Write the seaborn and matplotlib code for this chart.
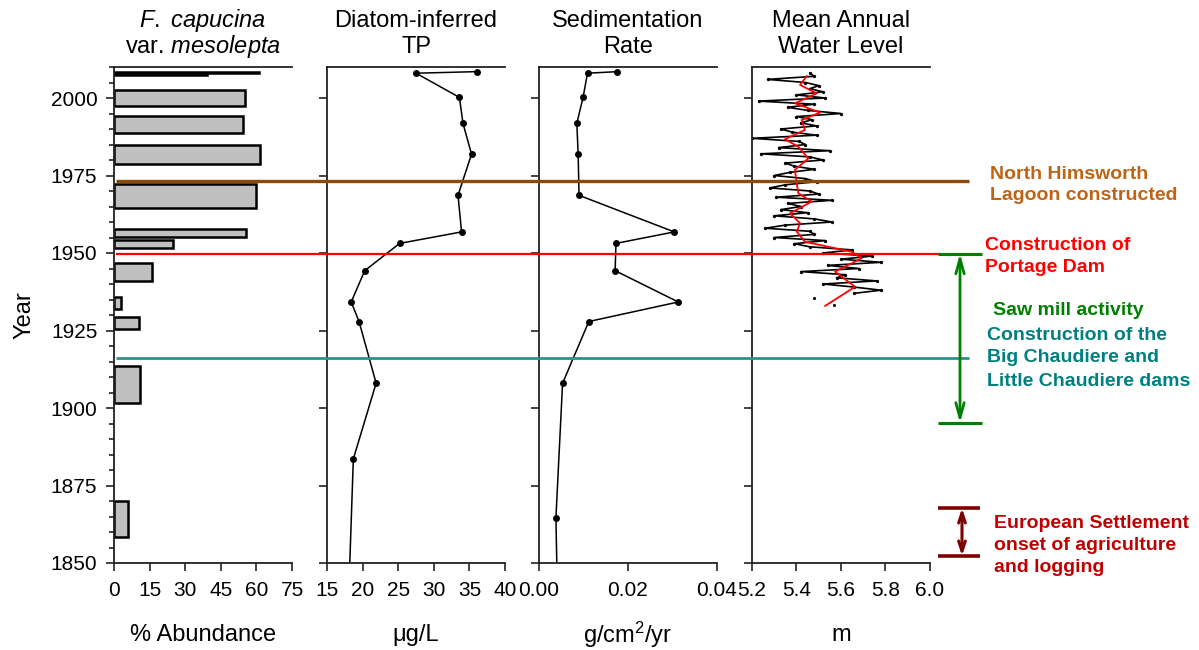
import matplotlib
matplotlib.use("Agg")
import matplotlib.pyplot as plt
from matplotlib.ticker import MultipleLocator
import seaborn as sns

# F. capucina var. mesolepta abundance, one bar per sediment interval (years)
abund_top = [2008.3, 2007.9, 2002.6, 1994.2, 1984.8, 1972.2, 1957.7, 1954.2, 1946.7, 1935.9, 1929.5, 1913.7, 1870.0]
abund_base = [2008.1, 2007.4, 1997.4, 1988.8, 1978.6, 1964.4, 1955.2, 1951.7, 1941.1, 1931.8, 1925.5, 1901.7, 1858.5]
abund_pct = [61.0, 39.0, 55.2, 54.5, 61.5, 59.7, 55.5, 25.0, 15.9, 2.8, 10.4, 11.0, 5.8]

# diatom-inferred TP (last value is the line running to the bottom, no marker)
tp_year = [2008.5, 2008.0, 2000.2, 1991.8, 1981.9, 1968.6, 1956.8, 1953.1, 1944.3, 1934.2, 1927.9, 1908.0, 1883.6, 1850.0]
tp_value = [36.0, 27.5, 33.6, 34.1, 35.3, 33.4, 33.9, 25.2, 20.3, 18.4, 19.5, 21.9, 18.7, 18.2]

# sedimentation rate (g/cm2/yr)
sed_year = [2008.5, 2008.0, 2000.2, 1991.8, 1981.9, 1968.6, 1956.8, 1953.1, 1944.3, 1934.2, 1927.9, 1908.0, 1864.5, 1850.0]
sed_value = [0.0176, 0.0109, 0.0099, 0.0085, 0.0088, 0.0090, 0.0304, 0.0173, 0.0171, 0.0313, 0.0112, 0.0053, 0.0038, 0.0040]

# mean annual water level (m), annual series 2008 -> 1937
wl_year = list(range(2008, 1936, -1))
wl_value = [5.46, 5.48, 5.27, 5.44, 5.50, 5.46, 5.52, 5.40, 5.53, 5.23,
            5.48, 5.36, 5.45, 5.60, 5.40, 5.47, 5.42, 5.49, 5.33, 5.38,
            5.49, 5.20, 5.41, 5.44, 5.32, 5.55, 5.24, 5.46, 5.52, 5.35,
            5.39, 5.48, 5.37, 5.30, 5.44, 5.49, 5.35, 5.28, 5.46, 5.50,
            5.31, 5.56, 5.36, 5.42, 5.33, 5.45, 5.30, 5.48, 5.56, 5.35,
            5.26, 5.46, 5.48, 5.30, 5.53, 5.39, 5.46, 5.65, 5.52, 5.74,
            5.60, 5.78, 5.54, 5.68, 5.42, 5.62, 5.58, 5.76, 5.52, 5.66,
            5.78, 5.66]
wl_dot_year = [1935.5, 1933.2]
wl_dot_value = [5.48, 5.57]

# smoothed water level (red)
smooth_year = [2007.1, 2004.2, 2001.5, 1998.3, 1995.3, 1992.9, 1989.7, 1986.7, 1984.3, 1980.5,
               1976.8, 1972.5, 1969.3, 1966.6, 1962.8, 1959.6, 1956.9, 1953.6, 1950.4, 1948.3,
               1944.0, 1939.1, 1932.9]
smooth_value = [5.446, 5.416, 5.491, 5.393, 5.506, 5.423, 5.438, 5.348, 5.408, 5.453,
                5.393, 5.401, 5.408, 5.468, 5.371, 5.416, 5.401, 5.438, 5.648, 5.693,
                5.573, 5.663, 5.528]

# event lines (year) and arrow spans
event_year = {"lagoon": 1973.3, "portage": 1949.8, "chaudiere": 1916.2}
sawmill_span = (1949.8, 1895.2)
settlement_span = (1867.7, 1852.3)

W, H = 1199, 650
FS_TICK = 15
FS_LAB = 17
FS_NOTE = 14

sns.set_theme(style="ticks")
plt.rcParams["font.family"] = ["Liberation Sans", "DejaVu Sans"]
plt.rcParams["mathtext.fontset"] = "custom"
plt.rcParams["mathtext.rm"] = "Liberation Sans"
plt.rcParams["mathtext.it"] = "Liberation Sans:italic"
for key in ("text.color", "axes.labelcolor", "xtick.color", "ytick.color"):
    plt.rcParams[key] = "black"

fig = plt.figure(figsize=(W / 100, H / 100), dpi=100)

lefts = [114, 327, 539, 752]
pw = 178
ax_bottom = 1 - 563 / H
ax_height = (563 - 67) / H
axes = [fig.add_axes([l / W, ax_bottom, pw / W, ax_height]) for l in lefts]

for ax in axes:
    ax.set_ylim(1850, 2010)
    ax.spines["right"].set_visible(False)
    for s in ("left", "top", "bottom"):
        ax.spines[s].set_color("#222222")
        ax.spines[s].set_linewidth(1.3)
    ax.yaxis.set_major_locator(MultipleLocator(25))
    ax.tick_params(axis="both", direction="out", length=6, width=1.2, color="#222222",
                   labelsize=FS_TICK, pad=7, labelcolor="black")
    ax.tick_params(axis="y", pad=6)

# panel 1: bars
ax = axes[0]
centers = [(t + b) / 2 for t, b in zip(abund_top, abund_base)]
spans = [t - b for t, b in zip(abund_top, abund_base)]
ax.barh(centers, abund_pct, height=spans, left=0, color="#C0C0C0", edgecolor="black", linewidth=1.8)
ax.set_xlim(0, 75)
ax.set_xticks([0, 15, 30, 45, 60, 75])
ax.yaxis.set_minor_locator(MultipleLocator(5))
ax.tick_params(axis="y", which="minor", direction="out", length=3.5, width=1.2, color="#222222")
ax.set_yticks([1850, 1875, 1900, 1925, 1950, 1975, 2000])

line_kw = dict(sort=False, orient="y", estimator=None, color="black")

# panel 2: TP
ax = axes[1]
n = len(tp_value)
sns.lineplot(x=tp_value, y=tp_year, lw=1.1, marker="o", markersize=5, markeredgewidth=0,
             markevery=list(range(n - 1)), ax=ax, **line_kw)
ax.set_xlim(15, 40)
ax.set_xticks([15, 20, 25, 30, 35, 40])
ax.set_yticklabels([])

# panel 3: sedimentation
ax = axes[2]
n = len(sed_value)
sns.lineplot(x=sed_value, y=sed_year, lw=1.1, marker="o", markersize=5, markeredgewidth=0,
             markevery=list(range(n - 1)), ax=ax, **line_kw)
ax.set_xlim(0, 0.04)
ax.set_xticks([0, 0.02, 0.04])
ax.set_xticklabels(["0.00", "0.02", "0.04"])
ax.set_yticklabels([])

# panel 4: water level
ax = axes[3]
sns.lineplot(x=wl_value, y=wl_year, lw=1.2, marker="o", markersize=2.4, markeredgewidth=0,
             ax=ax, **line_kw)
sns.scatterplot(x=wl_dot_value, y=wl_dot_year, color="black", s=5, linewidth=0, ax=ax)
sns.lineplot(x=smooth_value, y=smooth_year, sort=False, orient="y", estimator=None,
             color="red", lw=1.3, ax=ax)
ax.set_xlim(5.2, 6.0)
ax.set_xticks([5.2, 5.4, 5.6, 5.8, 6.0])
ax.set_xticklabels(["5.2", "5.4", "5.6", "5.8", "6.0"])
ax.set_yticklabels([])

for ax in axes:
    ax.set_xlabel("")
    ax.set_ylabel("")
    ax.set_ylim(1850, 2010)

# overlay in pixel-x / year-y coordinates for event lines
ov = fig.add_axes([0, ax_bottom, 1, ax_height])
ov.set_xlim(0, W)
ov.set_ylim(1850, 2010)
ov.axis("off")
ov.patch.set_alpha(0)
ov.hlines(event_year["lagoon"], 116, 969, color="#8B4A0B", lw=2.4)
ov.hlines(event_year["portage"], 116, 940, color="#FF0000", lw=1.6)
ov.hlines(event_year["chaudiere"], 116, 969, color="#2F8F8F", lw=2.0)

green = "#008000"
ov.hlines(list(sawmill_span), 938, 982, color=green, lw=2.2)
ov.annotate("", xy=(960, sawmill_span[0]), xytext=(960, sawmill_span[1]),
            arrowprops=dict(arrowstyle="<->,head_length=0.9,head_width=0.25", color=green,
                            lw=2.0, shrinkA=0, shrinkB=0))
dred = "#800000"
ov.hlines(list(settlement_span), 938, 980, color=dred, lw=2.6)
ov.annotate("", xy=(962, settlement_span[0]), xytext=(962, settlement_span[1]),
            arrowprops=dict(arrowstyle="<->,head_length=0.6,head_width=0.2", color=dred,
                            lw=2.2, shrinkA=0, shrinkB=0))

notes = [
    ("North Himsworth", 990, 175, "#BE6414"),
    ("Lagoon constructed", 990, 196, "#BE6414"),
    ("Construction of", 985, 245, "#FF0000"),
    ("Portage Dam", 985, 267, "#FF0000"),
    ("Saw mill activity", 993, 310, green),
    ("Construction of the", 987, 336, "#008080"),
    ("Big Chaudiere and", 987, 358, "#008080"),
    ("Little Chaudiere dams", 987, 381, "#008080"),
    ("European Settlement", 994, 523, "#C00000"),
    ("onset of agriculture", 994, 545, "#C00000"),
    ("and logging", 994, 567, "#C00000"),
]
for txt, x, y, c in notes:
    fig.text(x / W, 1 - y / H, txt, color=c, fontsize=FS_NOTE, fontweight="bold",
             ha="left", va="center")

# panel titles
centers_x = [l + pw / 2 for l in lefts]
titles = [("$\\mathit{F.\\ capucina}$", "var. $\\mathit{mesolepta}$"),
          ("Diatom-inferred", "TP"),
          ("Sedimentation", "Rate"),
          ("Mean Annual", "Water Level")]
for cx, (t1, t2) in zip(centers_x, titles):
    fig.text(cx / W, 1 - 21 / H, t1, fontsize=FS_LAB, ha="center", va="center")
    fig.text(cx / W, 1 - 47 / H, t2, fontsize=FS_LAB, ha="center", va="center")

xlabels = ["% Abundance", "\u03bcg/L", "g/cm$^2$/yr", "m"]
for cx, lab in zip(centers_x, xlabels):
    fig.text(cx / W, 1 - 635 / H, lab, fontsize=FS_LAB, ha="center", va="center")

fig.text(25 / W, 1 - 315 / H, "Year", fontsize=FS_LAB, rotation=90, ha="center", va="center")

fig.savefig("out.png", dpi=100)
